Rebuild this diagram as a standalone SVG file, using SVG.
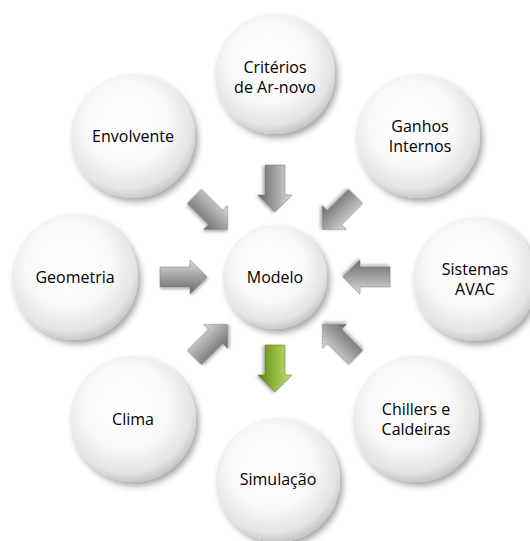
<svg xmlns="http://www.w3.org/2000/svg" width="530" height="541" viewBox="0 0 530 541">
<defs>
<radialGradient id="ball" cx="0.45" cy="0.4" r="0.62">
<stop offset="0" stop-color="#ffffff"/>
<stop offset="0.55" stop-color="#f8f8f8"/>
<stop offset="0.85" stop-color="#e4e4e4"/>
<stop offset="1" stop-color="#c2c2c2"/>
</radialGradient>
<linearGradient id="gray" gradientUnits="userSpaceOnUse" x1="0" y1="-17" x2="0" y2="17">
<stop offset="0" stop-color="#dcdcdc"/>
<stop offset="0.45" stop-color="#a6a6a6"/>
<stop offset="1" stop-color="#6a6a6a"/>
</linearGradient>
<linearGradient id="green" gradientUnits="userSpaceOnUse" x1="0" y1="-17" x2="0" y2="17">
<stop offset="0" stop-color="#c8de7c"/>
<stop offset="0.5" stop-color="#93b83c"/>
<stop offset="1" stop-color="#5c8220"/>
</linearGradient>
<filter id="sh" x="-30%" y="-30%" width="160%" height="160%">
<feDropShadow dx="3" dy="4" stdDeviation="3" flood-color="#000" flood-opacity="0.35"/>
</filter>
<filter id="ash" x="-30%" y="-30%" width="160%" height="160%">
<feDropShadow dx="1" dy="2" stdDeviation="1.5" flood-color="#000" flood-opacity="0.3"/>
</filter>
<path id="arr" d="M-47,-10 L-17,-10 L-17,-17 L0,0 L-17,17 L-17,10 L-47,10 Z"/>
</defs>
<style>
.node circle{fill:url(#ball);filter:url(#sh);}
.node text{font-family:"Open Sans","Liberation Sans",sans-serif;font-size:16px;fill:#000;text-anchor:middle;}
.ga{fill:url(#gray);stroke:#777;stroke-width:0.5;filter:url(#ash);}
.gr{fill:url(#green);stroke:#5c7a20;stroke-width:0.5;filter:url(#ash);}
</style>
<rect width="530" height="541" fill="#ffffff"/>
<g id="connectors">
<use href="#arr" class="ga" transform="translate(275,277) rotate(-90) translate(65,0) rotate(180)"/>
<use href="#arr" class="ga" transform="translate(275,277) rotate(-45) translate(67,0) rotate(180)"/>
<use href="#arr" class="ga" transform="translate(275,277) rotate(0) translate(68,0) rotate(180)"/>
<use href="#arr" class="ga" transform="translate(275,277) rotate(45) translate(67,0) rotate(180)"/>
<use href="#arr" class="ga" transform="translate(275,277) rotate(135) translate(67,0) rotate(180)"/>
<use href="#arr" class="ga" transform="translate(275,277) rotate(180) translate(68,0) rotate(180)"/>
<use href="#arr" class="ga" transform="translate(275,277) rotate(-135) translate(67,0) rotate(180)"/>
<use href="#arr" class="gr" transform="translate(275,277) rotate(90) translate(115,0)"/>
</g>
<g id="criterios" class="node"><circle cx="275" cy="74" r="60"/><text x="275" y="73">Critérios</text><text x="275" y="93">de Ar-novo</text></g>
<g id="ganhos" class="node"><circle cx="418" cy="136" r="62"/><text x="420" y="132">Ganhos</text><text x="420" y="152">Internos</text></g>
<g id="sistemas" class="node"><circle cx="475" cy="279" r="62"/><text x="475" y="275">Sistemas</text><text x="475" y="295">AVAC</text></g>
<g id="chillers" class="node"><circle cx="416" cy="419" r="63"/><text x="416" y="415">Chillers e</text><text x="416" y="435">Caldeiras</text></g>
<g id="simulacao" class="node"><circle cx="278" cy="480" r="62"/><text x="278" y="485">Simulação</text></g>
<g id="clima" class="node"><circle cx="133" cy="419" r="63"/><text x="133" y="425">Clima</text></g>
<g id="geometria" class="node"><circle cx="75" cy="277" r="63"/><text x="75" y="283">Geometria</text></g>
<g id="envolvente" class="node"><circle cx="133" cy="136" r="62"/><text x="133" y="142">Envolvente</text></g>
<g id="modelo" class="node"><circle cx="275" cy="277" r="52"/><text x="275" y="283">Modelo</text></g>
</svg>
